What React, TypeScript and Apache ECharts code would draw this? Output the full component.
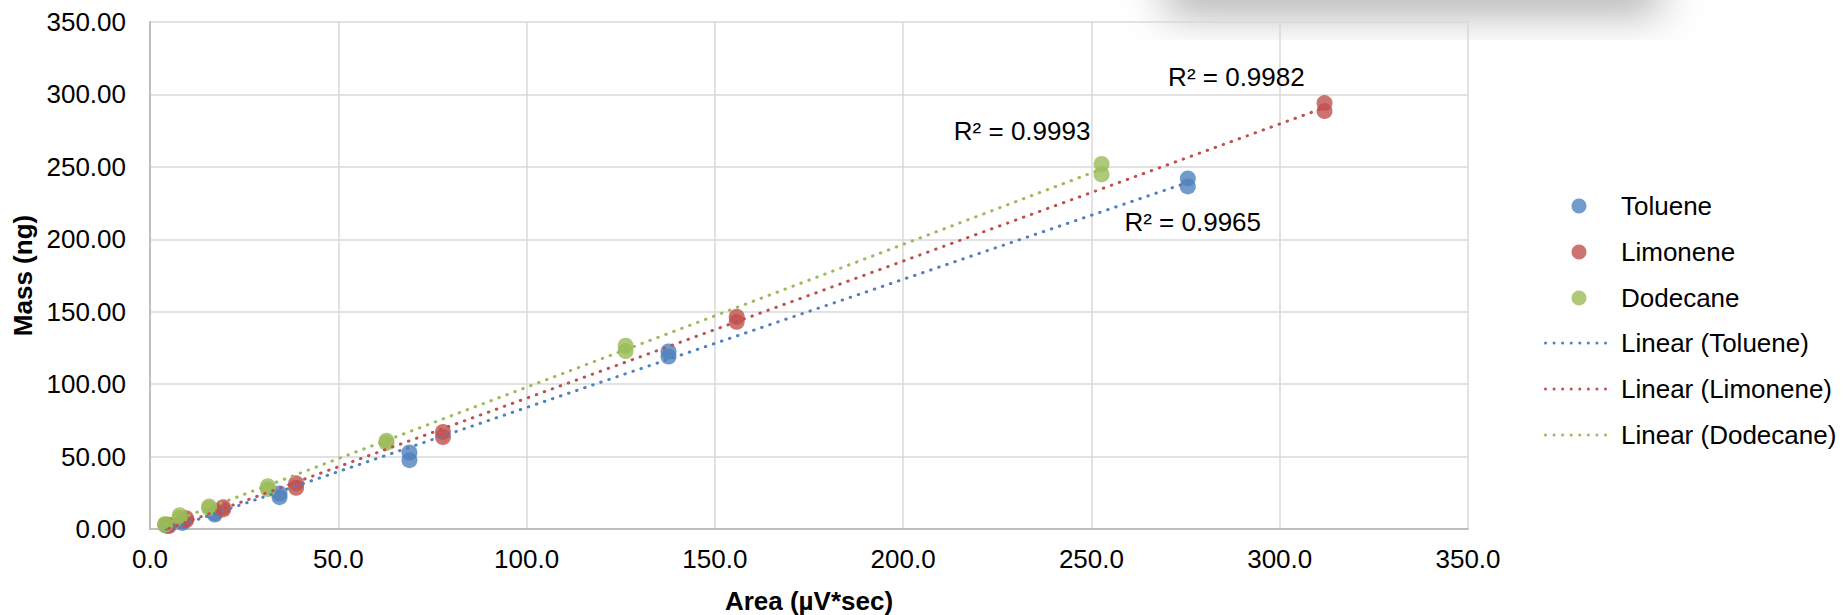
import React, { useEffect, useRef } from "react";
import * as echarts from "echarts";

const seriesNames = ["Toluene", "Limonene", "Dodecane"];
const trendNames = ["Linear (Toluene)", "Linear (Limonene)", "Linear (Dodecane)"];
const colors = ["#4F81BD", "#C0504D", "#9BBB59"];

const tolueneX = [4.3, 4.3, 8.6, 8.6, 17.2, 17.2, 34.4, 34.4, 68.9, 68.9, 137.7, 137.7, 275.6, 275.6];
const tolueneY = [2.3, 2.8, 4.2, 5.6, 10.0, 11.0, 22.0, 24.5, 47.5, 52.8, 119.0, 122.5, 236.5, 242.0];

const limoneneX = [5.0, 5.0, 9.6, 9.6, 19.4, 19.4, 38.8, 38.8, 77.8, 77.8, 155.8, 155.8, 311.9, 311.9];
const limoneneY = [2.0, 3.0, 6.0, 7.5, 13.5, 15.0, 28.5, 31.5, 63.5, 67.0, 143.0, 146.5, 288.5, 294.0];

const dodecaneX = [4.0, 4.0, 7.9, 7.9, 15.7, 15.7, 31.3, 31.3, 62.8, 62.8, 126.3, 126.3, 252.7, 252.7];
const dodecaneY = [2.8, 3.5, 7.8, 9.5, 14.3, 15.5, 27.5, 29.5, 59.5, 61.0, 122.8, 126.5, 244.8, 252.0];

const r2Labels = ["R² = 0.9965", "R² = 0.9982", "R² = 0.9993"];
// where each R² label sits, in data units (x, y)
const r2Anchors = [[276.9, 211.6], [288.5, 311.9], [231.6, 274.6]];

const xTicks = { min: 0, max: 350, interval: 50 };
const yTicks = { min: 0, max: 350, interval: 50 };

const FONT = "'Liberation Sans', Arial, sans-serif";

function regress(xs: number[], ys: number[]) {
  const n = xs.length;
  let sx = 0, sy = 0, sxx = 0, sxy = 0;
  for (let i = 0; i < n; i++) {
    sx += xs[i]; sy += ys[i]; sxx += xs[i] * xs[i]; sxy += xs[i] * ys[i];
  }
  const b = (n * sxy - sx * sy) / (n * sxx - sx * sx);
  const a = (sy - b * sx) / n;
  const lo = Math.min(...xs);
  const hi = Math.max(...xs);
  return [[lo, a + b * lo], [hi, a + b * hi]];
}

function dotsPath(w: number, n: number, d: number) {
  const r = d / 2;
  const step = (w - d) / (n - 1);
  let p = "path://";
  for (let i = 0; i < n; i++) {
    const cx = r + i * step;
    p += `M${cx - r} ${r}a${r} ${r} 0 1 0 ${d} 0a${r} ${r} 0 1 0 ${-d} 0Z`;
  }
  return p;
}

export default function App() {
  const ref = useRef<HTMLDivElement>(null);
  useEffect(() => {
    if (!ref.current) return;
    const chart = echarts.init(ref.current, undefined, { renderer: "svg" });
    const xs = [tolueneX, limoneneX, dodecaneX];
    const ys = [tolueneY, limoneneY, dodecaneY];
    const dotIcon = dotsPath(63, 8, 3);

    const scatterSeries = seriesNames.map((name, i) => ({
      name,
      type: "scatter",
      symbol: "circle",
      symbolSize: 16,
      itemStyle: { color: colors[i] },
      data: xs[i].map((x, k) => [x, ys[i][k]]),
      z: 2,
    }));
    const lineSeries = trendNames.map((name, i) => {
      const pts = regress(xs[i], ys[i]);
      return {
        name,
        type: "line",
        showSymbol: false,
        symbol: "none",
        color: colors[i],
        lineStyle: { color: colors[i], width: 3, type: [0.5, 8], cap: "round" },
        data: pts,
        z: 3,
        markPoint: {
          symbol: "circle",
          symbolSize: 0,
          data: [
            {
              coord: r2Anchors[i],
              label: {
                show: true,
                formatter: r2Labels[i],
                position: "inside",
                color: "#000",
                fontFamily: FONT,
                fontSize: 26,
              },
            },
          ],
        },
      };
    });

    chart.setOption({
      animation: false,
      backgroundColor: "#fff",
      textStyle: { fontFamily: FONT },
      grid: { left: 150, top: 22, width: 1318, height: 507, containLabel: false, outerBoundsMode: "none" },
      xAxis: {
        type: "value",
        ...xTicks,
        name: "Area (µV*sec)",
        nameLocation: "middle",
        nameGap: 59,
        nameTextStyle: { fontFamily: FONT, fontSize: 26, lineHeight: 26, fontWeight: "bold", color: "#000" },
        axisLine: { show: true, lineStyle: { color: "#BFBFBF", width: 2 } },
        axisTick: { show: false },
        axisLabel: {
          margin: 17,
          fontFamily: FONT,
          fontSize: 26,
          color: "#000",
          formatter: (v: number) => v.toFixed(1),
        },
        splitLine: { show: true, lineStyle: { color: "#D9D9D9", width: 1.5 } },
      },
      yAxis: {
        type: "value",
        ...yTicks,
        name: "Mass (ng)",
        nameLocation: "middle",
        nameGap: 111,
        nameRotate: 90,
        nameTextStyle: { fontFamily: FONT, fontSize: 26, fontWeight: "bold", color: "#000" },
        axisLine: { show: true, lineStyle: { color: "#BFBFBF", width: 2 } },
        axisTick: { show: false },
        axisLabel: {
          margin: 24,
          fontFamily: FONT,
          fontSize: 26,
          color: "#000",
          formatter: (v: number) => v.toFixed(2),
        },
        splitLine: { show: true, lineStyle: { color: "#D9D9D9", width: 1.5 } },
      },
      legend: [
        {
          orient: "vertical",
          left: 1571.5,
          top: 191,
          padding: 0,
          itemWidth: 15,
          itemHeight: 15,
          itemGap: 16,
          itemStyle: { borderWidth: 0 },
          textStyle: { fontFamily: FONT, fontSize: 26, color: "#000", lineHeight: 30, padding: [0, 0, 0, 29.5] },
          data: seriesNames.map((n) => ({ name: n, icon: "circle" })),
          selectedMode: false,
        },
        {
          orient: "vertical",
          left: 1544,
          top: 328,
          padding: 0,
          itemWidth: 63,
          itemHeight: 3,
          itemGap: 16,
          itemStyle: { borderWidth: 0 },
          lineStyle: { width: 0 },
          textStyle: { fontFamily: FONT, fontSize: 26, color: "#000", lineHeight: 30, padding: [0, 0, 0, 9] },
          data: trendNames.map((n, i) => ({ name: n, icon: dotIcon, itemStyle: { color: colors[i], borderWidth: 0 } })),
          selectedMode: false,
        },
      ],
      graphic: [
        {
          type: "rect",
          shape: { x: 1165, y: -40, width: 495, height: 40 },
          style: {
            fill: "#888",
            shadowBlur: 44,
            shadowColor: "rgba(0,0,0,0.35)",
            shadowOffsetY: 12,
          },
          silent: true,
          z: -10,
        },
      ],
      series: [...scatterSeries, ...lineSeries],
    });
    return () => chart.dispose();
  }, []);
  return (
    <div
      ref={ref}
      style={{ position: "absolute", left: 0, top: 0, width: 1845, height: 615 }}
    />
  );
}
